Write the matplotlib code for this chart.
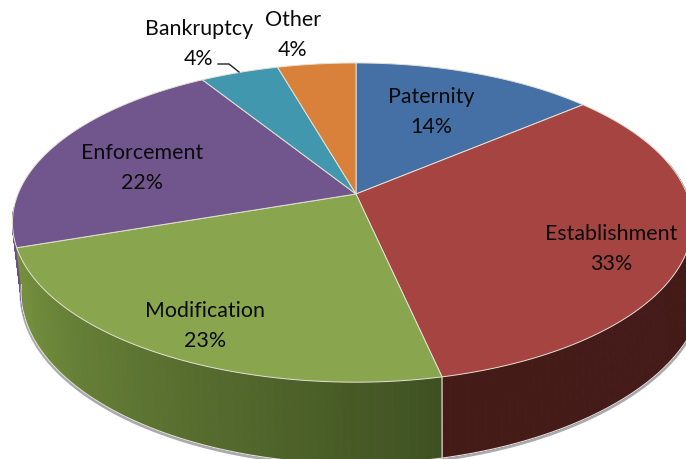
import numpy as np
import matplotlib
matplotlib.use("Agg")
import matplotlib.pyplot as plt

categories = ["Paternity", "Establishment", "Modification", "Enforcement", "Bankruptcy", "Other"]
values = [13.9, 32.8, 23.2, 21.6, 4.4, 4.4]
colors = ["#4470a6", "#a64442", "#89a54e", "#71558d", "#4097ae", "#d9813b"]
# wall shade at the start and end of each slice (clockwise)
wall_start = ["#2d4a70", "#431a17", "#3f5122", "#6a5285", "#2c6a7a", "#99592a"]
wall_end = ["#2d4a70", "#451b18", "#76923f", "#6a5285", "#2c6a7a", "#99592a"]
label_pos = [(431, 112), (611, 249), (205, 326), (142, 168), (199, 44), (293, 35)]

# pie geometry in pixels
cx, cy = 356, 195
rx_right, rx_left = 331, 338
ry = 154.5
persp = 0.179
depth = 67
shrink_left = 0.975
stretch_right = 0.03
edge = "#e4e0d4"


def top_rim(theta):
    d = 1 + persp * np.cos(theta)
    s = np.sin(theta)
    return cx + np.where(s < 0, rx_left, rx_right) * s / d, cy - ry * np.cos(theta) / d


def low_rim(theta):
    d = 1 + persp * np.cos(theta)
    s = np.sin(theta)
    scale = np.where(s < 0, shrink_left * rx_left, (1 + stretch_right * s ** 2) * rx_right)
    return cx + scale * s / d, cy + (depth - ry * np.cos(theta)) / d


def lerp_color(c1, c2, t):
    a = np.array(matplotlib.colors.to_rgb(c1))
    b = np.array(matplotlib.colors.to_rgb(c2))
    return tuple(a + (b - a) * t)


fig = plt.figure(figsize=(6.86, 4.6), dpi=100)
ax = fig.add_axes([0, 0, 1, 1])
ax.set_xlim(0, 686)
ax.set_ylim(460, 0)
ax.axis("off")

share = np.array(values) / sum(values)
bounds = np.concatenate([[0], np.cumsum(share)]) * 2 * np.pi

# soft shadow under the lower rim
t = np.linspace(np.radians(80), np.radians(262), 200)
sx, sy = low_rim(t)
ax.plot(sx, sy + 1.5, color="#a9a9b4", lw=2.2, zorder=1)

# walls, left side first, then right side
order = [3, 2, 1, 0]
for i in order:
    start = max(bounds[i], np.radians(78))
    end = min(bounds[i + 1], np.radians(265))
    if end <= start:
        continue
    steps = np.linspace(start, end, 70)
    for j in range(len(steps) - 1):
        t = np.array([steps[j], steps[j + 1]])
        x1, y1 = top_rim(t)
        x2, y2 = low_rim(t[::-1])
        c = lerp_color(wall_start[i], wall_end[i], j / 69)
        ax.fill(np.r_[x1, x2], np.r_[y1, y2], facecolor=c, edgecolor=c, lw=0.7, zorder=2)

# lower rim and the wall seam between modification and establishment
t = np.linspace(np.radians(80), np.radians(262), 200)
sx, sy = low_rim(t)
ax.plot(sx, sy, color=edge, lw=0.8, zorder=3)
seam = bounds[2]
ax.plot([top_rim(seam)[0], low_rim(seam)[0]], [top_rim(seam)[1], low_rim(seam)[1]], color=edge, lw=0.9, zorder=3)

# top face
for i in range(len(values)):
    t = np.linspace(bounds[i], bounds[i + 1], 120)
    x, y = top_rim(t)
    ax.fill(np.r_[cx, x], np.r_[cy, y], facecolor=colors[i], edgecolor=edge, lw=0.7,
            joinstyle="round", zorder=4)

for name, v, pos in zip(categories, values, label_pos):
    ax.text(pos[0], pos[1], f"{name}\n{round(v)}%", ha="center", va="center", fontsize=15.4,
            family="Lato", color="#0a0a0a", linespacing=1.6, zorder=5)

# leader line for the bankruptcy label
ax.plot([218, 229, 239], [65, 65, 73], color="#222222", lw=1, zorder=5)

fig.savefig("out.png", dpi=100)
